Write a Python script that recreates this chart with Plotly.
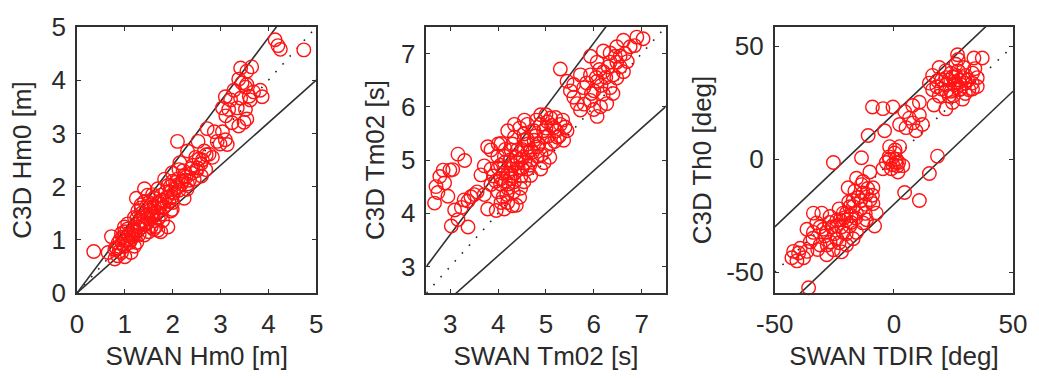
import plotly.graph_objects as go

# ---------------- data ----------------
# Panel 1: significant wave height Hm0 [m]
hm0_swan = [0.35,
    0.65, 0.72, 0.79, 0.79, 0.86, 0.93, 0.99, 0.99, 1.06, 1.13, 1.13, 1.20, 0.93, 1.06, 1.20, 0.85, 1.00, 0.90, 1.10,
    1.27, 1.34, 1.41, 1.48, 1.55, 1.62, 1.69, 1.34, 1.41, 1.55, 1.62, 1.69, 1.76, 1.79, 1.83, 1.76, 1.90, 1.96, 1.99,
    1.99, 1.96, 1.90, 2.06, 1.99, 2.13, 2.13, 2.24, 2.24, 2.31, 2.45, 2.38, 2.31, 2.48, 2.59, 2.69, 2.55, 2.83, 1.83,
    1.69, 1.41, 1.27, 1.24, 1.48, 1.34, 1.20, 1.30, 1.45, 1.50, 1.60, 1.70, 1.80, 1.85, 2.00, 2.10, 2.20, 2.30, 2.40,
    2.50, 2.60, 1.55, 1.65, 1.75, 2.00, 2.15, 1.40, 1.15, 1.25, 1.00,
    0.82, 0.88, 0.95, 1.02, 1.08, 1.12, 1.18, 1.22, 1.28, 1.32, 1.38, 1.42, 1.48, 1.52, 1.58, 1.62, 1.66, 1.72, 1.78,
    1.82, 1.88, 1.92, 1.95, 2.02, 2.08, 2.12, 2.18, 2.22, 2.28, 2.35, 2.42, 2.52, 2.62, 2.70, 1.50, 1.58, 1.35, 1.25,
    1.05, 0.95, 1.70, 1.60,
    2.10,
    2.53, 2.66, 2.72, 2.76, 2.87, 2.93, 2.99, 3.04, 3.04, 3.10, 3.10, 3.11, 3.14, 3.17, 3.21, 3.24, 3.28, 3.35, 3.38,
    3.38, 3.42, 3.42, 3.49, 3.52, 3.52, 3.55, 3.55, 3.62, 3.65, 3.69, 3.83, 3.87, 3.55, 3.60, 3.45,
    4.14, 4.20, 4.25, 4.74]
hm0_c3d = [0.78,
    0.76, 1.06, 0.82, 0.64, 0.94, 0.76, 0.88, 1.24, 1.00, 1.12, 0.76, 0.88, 1.12, 1.30, 1.42, 0.70, 0.68, 1.00, 0.95,
    1.24, 1.36, 1.09, 1.48, 1.24, 1.36, 1.18, 1.60, 1.72, 1.66, 1.78, 1.60, 1.48, 1.36, 1.72, 1.84, 1.24, 1.54, 1.57,
    1.81, 1.90, 2.02, 2.08, 2.26, 2.32, 1.93, 2.20, 1.78, 2.05, 2.14, 2.34, 2.67, 2.55, 2.43, 2.32, 2.52, 2.55, 2.14,
    1.96, 1.96, 1.54, 1.78, 1.84, 1.66, 1.20, 1.10, 1.30, 1.15, 1.50, 1.70, 1.60, 1.90, 1.70, 2.00, 2.10, 1.95, 2.25,
    2.30, 2.20, 1.45, 1.25, 1.15, 2.10, 2.45, 1.45, 1.05, 0.95, 1.15,
    0.85, 0.78, 0.92, 0.98, 1.08, 1.00, 1.15, 1.08, 1.30, 1.22, 1.35, 1.28, 1.40, 1.55, 1.45, 1.62, 1.52, 1.68, 1.75,
    1.62, 1.80, 1.72, 2.00, 1.88, 1.98, 2.15, 2.05, 2.30, 2.18, 2.12, 2.40, 2.35, 2.50, 2.60, 1.70, 1.85, 1.50, 1.40,
    1.20, 1.05, 1.40, 1.20,
    2.85,
    2.85, 2.67, 3.09, 2.61, 3.03, 2.85, 2.80, 3.03, 3.48, 2.88, 3.69, 3.33, 2.79, 3.45, 3.63, 3.20, 3.81, 3.48, 3.14,
    4.02, 3.66, 4.23, 3.21, 3.45, 3.87, 4.17, 3.27, 3.63, 4.25, 3.78, 3.81, 3.69, 3.92, 3.70, 3.95,
    4.76, 4.65, 4.58, 4.57]

# Panel 2: mean wave period Tm02 [s]
tm02_swan = [2.67, 2.70, 2.78, 2.85, 2.88, 2.95, 2.99, 3.05, 3.16, 3.30, 3.02, 3.16, 3.37, 3.09, 3.23, 3.29, 3.37, 3.43,
    3.50, 3.56, 2.74,
    3.78, 3.96, 4.13, 4.06, 4.30, 3.71, 3.85, 3.64, 3.85, 4.06, 4.20, 4.34, 4.27, 4.13, 4.47, 4.40, 3.85, 4.06, 4.34,
    4.54, 4.68, 4.82, 4.96, 4.89, 4.61, 4.68, 4.54, 4.47, 4.75, 4.89, 5.03, 5.17, 5.24, 5.10, 4.96, 5.30, 5.44, 5.37,
    4.89, 5.10, 4.61, 4.20, 4.34, 3.78, 3.99, 3.71, 4.40, 4.61, 4.75, 4.27, 4.13, 4.54, 4.82, 4.20, 4.30, 4.15, 4.25,
    4.35, 4.00, 4.10, 4.50, 4.60, 4.70, 5.00, 5.00, 5.20, 4.00, 4.45,
    3.95, 4.05, 4.10, 4.18, 4.22, 4.28, 4.32, 4.38, 4.42, 4.48, 4.52, 4.56, 4.62, 4.66, 4.72, 4.78, 4.85, 4.90, 4.95,
    5.05, 5.08, 5.12, 5.18, 5.22, 5.28, 5.35, 5.40, 4.45, 4.30, 4.15, 4.00, 4.05, 4.20, 4.38, 4.55, 4.80, 5.00, 3.90,
    4.25, 4.50,
    5.30, 5.44, 5.51, 5.58, 5.65, 5.72, 6.07, 5.93, 5.79, 6.00, 6.07, 5.93, 6.20, 6.34, 6.07, 5.93, 6.34, 6.48, 6.62,
    6.76, 6.90, 7.03, 6.48, 6.62, 6.34, 6.20, 6.48, 5.72, 5.58, 6.14, 6.27, 6.55, 6.20,
    5.85, 5.95, 6.05, 6.12, 6.15, 6.25, 6.30, 6.40, 6.45, 6.55, 6.65, 6.70, 6.85, 5.80, 6.00, 6.40]
tm02_c3d = [4.19, 4.50, 4.69, 4.81, 4.57, 4.32, 4.81, 4.82, 5.11, 4.99, 3.76, 3.88, 3.74, 4.06, 4.11, 4.25, 4.23, 4.31,
    4.35, 4.40, 4.39,
    4.08, 4.05, 4.08, 4.20, 4.14, 4.35, 4.54, 4.72, 4.83, 4.65, 4.47, 4.59, 4.83, 4.95, 5.01, 5.19, 5.19, 5.31, 5.43,
    5.37, 5.19, 5.07, 4.95, 4.83, 4.83, 4.71, 4.59, 4.47, 5.55, 5.67, 5.72, 5.61, 5.43, 5.31, 5.43, 5.67, 5.55, 5.37,
    5.85, 5.79, 5.67, 5.55, 5.67, 5.25, 5.07, 4.89, 4.95, 5.13, 5.37, 5.19, 5.07, 5.49, 5.25, 4.75, 4.90, 4.60, 5.00,
    4.75, 4.40, 4.30, 5.20, 5.40, 5.00, 5.20, 5.60, 5.80, 4.85, 4.30,
    4.60, 4.90, 4.75, 4.35, 4.55, 4.70, 4.40, 5.05, 4.85, 4.70, 5.05, 4.95, 5.30, 4.90, 5.15, 5.45, 5.30, 5.10, 5.55,
    5.45, 5.05, 5.65, 5.35, 5.55, 5.45, 5.75, 5.62, 5.60, 5.30, 5.20, 5.30, 4.55, 4.20, 4.15, 5.75, 5.75, 5.85, 4.70,
    4.65, 4.85,
    6.71, 6.48, 6.30, 6.18, 6.06, 5.94, 5.82, 6.12, 6.36, 6.30, 6.48, 6.60, 6.66, 6.84, 6.84, 6.95, 7.01, 7.13, 7.25,
    7.13, 7.31, 7.28, 6.54, 6.66, 6.36, 6.24, 6.84, 6.60, 6.42, 6.00, 6.06, 6.95, 7.05,
    6.45, 6.25, 6.55, 6.70, 6.40, 6.55, 6.75, 6.60, 6.95, 6.75, 7.00, 6.85, 7.15, 6.05, 5.95, 6.25]

# Panel 3: wave direction [deg]
dir_swan = [26.7, 33.6, 37.1, 16.25, 19.0, 21.8, 24.6, 27.4, 30.1, 32.9, 35.0, 31.5, 27.4, 23.2, 19.0, 16.25, 14.9,
    21.8, 24.6, 28.8, 26.0, 29.4, 21.8, 25.3, 18.3, 30.1, 23.0, 26.0, 28.0, 20.0, 24.0, 33.0, 35.0, 16.8,
    22.0, 24.0, 27.0, 29.0, 31.0, 33.0, 26.0, 28.0, 22.0, 20.0, 25.0, 30.0, 18.0, 34.0, 27.0,
    -4.6, -0.4, -10.8, -3.9, 2.4, 7.9, 6.5, 10.7, 12.0, 9.3, 5.1, 10.7, 4.5, -9.0, 8.0,
    -1.8, 2.4, 0.3, -3.2, 0.97, 3.75, -1.1, -4.6, 1.7, -1.8, 1.5, -2.0, 1.0, 2.0, -0.5, 0.5,
    -13.6, -25.4, -10.1, 18.3, 14.9, 4.5, 10.7,
    -13.6, -16.4, -11.5, -8.8, -13.9, -8.8, -7.4, -8.1, -11.5, -15.7, -18.5, -21.3, -22.6, -18.5, -15.7, -21.3,
    -24.0, -26.8, -28.2, -32.4, -33.8, -30.3, -26.8, -24.0, -29.6, -33.8, -36.5, -35.1, -31.0, -25.4, -28.2, -19.9,
    -17.1, -13.0, -17.1, -19.2, -15.7, -13.0, -20.0, -23.0, -18.0, -26.0, -12.0,
    -22.0, -20.0, -18.0, -16.0, -14.0, -12.0, -10.0, -15.0, -19.0, -21.0, -24.0, -27.0, -29.0, -31.0, -34.0, -23.0,
    -20.0, -17.0, -13.0, -11.0, -25.0, -28.0, -32.0, -22.0, -9.0,
    -42.1, -39.3, -37.9, -40.7, -42.8, -36.5, -40.0,
    -35.8]
dir_c3d = [46.1, 44.7, 44.7, 37.0, 40.5, 39.1, 36.4, 35.0, 37.0, 33.6, 32.1, 30.7, 30.7, 27.9, 27.9, 30.7, 33.6,
    22.2, 25.0, 26.5, 41.9, 40.5, 32.9, 32.9, 34.7, 33.6, 35.0, 37.0, 33.0, 31.0, 30.0, 38.0, 36.0, 23.9,
    36.0, 38.0, 39.0, 36.0, 35.0, 31.0, 34.0, 31.0, 30.0, 35.0, 28.0, 29.0, 32.0, 40.0, 44.0,
    22.3, 23.0, 10.4, 12.5, 15.3, 23.7, 18.1, 19.5, 15.3, 12.5, 13.9, 25.1, 21.0, 23.0, 16.0,
    5.5, 5.5, 2.7, -1.5, -1.5, -2.9, -4.3, -4.3, -5.7, -0.1, -3.0, 1.0, 0.0, -1.5, -2.5, 4.0,
    0.6, -1.5, -5.7, 1.3, -6.4, -14.8, -18.3,
    -11.3, -14.1, -15.5, -12.7, -18.3, -19.7, -23.9, -29.6, -26.8, -23.9, -21.1, -23.9, -26.8, -29.6, -32.4, -32.4,
    -35.2, -36.6, -32.4, -28.2, -23.9, -23.9, -25.4, -29.6, -31.0, -32.4, -31.0, -36.6, -38.0, -40.1, -42.3, -38.0,
    -35.2, -28.2, -18.3, -12.7, -8.5, -9.9, -27.0, -22.0, -25.0, -30.0, -20.0,
    -30.0, -33.0, -28.0, -26.0, -22.0, -24.0, -18.0, -17.0, -19.0, -26.0, -27.0, -28.0, -34.0, -30.0, -35.0, -37.0,
    -24.0, -21.0, -15.0, -13.0, -33.0, -38.0, -40.0, -41.0, -16.0,
    -40.8, -39.4, -43.6, -45.0, -43.6, -40.8, -41.5,
    -56.9]

# axis ranges, ticks and reference-line definitions
x_titles = ["SWAN Hm0 [m]", "SWAN Tm02 [s]", "SWAN TDIR [deg]"]
y_titles = ["C3D Hm0 [m]", "C3D Tm02 [s]", "C3D Th0 [deg]"]
x_ranges = [[0, 5], [2.5, 7.5], [-50, 50]]
y_ranges = [[0, 5], [2.5, 7.5], [-59.2, 58.4]]
x_ticks = [[0, 1, 2, 3, 4, 5], [3, 4, 5, 6, 7], [-50, 0, 50]]
y_ticks = [[0, 1, 2, 3, 4, 5], [3, 4, 5, 6, 7], [-50, 0, 50]]
x_ticktext = [["0", "1", "2", "3", "4", "5"], ["3", "4", "5", "6", "7"], ["-50", "0", "50"]]
y_ticktext = [["0", "1", "2", "3", "4", "5"], ["3", "4", "5", "6", "7"], ["-50", "0", "50"]]
line_x = [[0, 5], [2.5, 7.6], [-50, 50]]
# relative (factor) bands for panels 1-2, absolute (offset) band for panel 3
band_factor = [1.2, 0.8]
band_offset = [20, -20]

x_domains = [[0.0, 0.2556], [0.3733, 0.6288], [0.7455, 1.0]]

FONT = "Liberation Sans, Arial, sans-serif"
FS = 26
TXT = "#2a2a2a"
LINE = "#303030"
RED = "#ff1414"

fig = go.Figure()
xs_all = [hm0_swan, tm02_swan, dir_swan]
ys_all = [hm0_c3d, tm02_c3d, dir_c3d]

for i in range(3):
    xa = "x" if i == 0 else f"x{i+1}"
    ya = "y" if i == 0 else f"y{i+1}"
    lx = line_x[i]
    # 1:1 dotted line
    fig.add_trace(go.Scatter(x=lx, y=lx, mode="lines", xaxis=xa, yaxis=ya,
                             line=dict(color="#222222", width=1.6, dash="1.6px,9px"),
                             showlegend=False, hoverinfo="skip"))
    # band lines
    if i < 2:
        for f in band_factor:
            fig.add_trace(go.Scatter(x=lx, y=[f * v for v in lx], mode="lines", xaxis=xa, yaxis=ya,
                                     line=dict(color=LINE, width=1.6), showlegend=False))
    else:
        for o in band_offset:
            fig.add_trace(go.Scatter(x=lx, y=[v + o for v in lx], mode="lines", xaxis=xa, yaxis=ya,
                                     line=dict(color=LINE, width=1.6), showlegend=False))
    fig.add_trace(go.Scatter(x=xs_all[i], y=ys_all[i], mode="markers", xaxis=xa, yaxis=ya,
                             marker=dict(symbol="circle-open", size=13.5, color=RED,
                                         line=dict(width=1.4, color=RED)),
                             cliponaxis=False, showlegend=False))

axis_common = dict(showline=True, mirror="ticks", linecolor=LINE, linewidth=1.6,
                   ticks="inside", ticklen=4, tickwidth=1.2, tickcolor=LINE,
                   showgrid=False, zeroline=False,
                   tickfont=dict(family=FONT, size=FS, color=TXT))

layout = dict(width=1039, height=378, margin=dict(l=77, r=19, t=24, b=74),
              paper_bgcolor="white", plot_bgcolor="white", showlegend=False)

y_standoffs = [12, 9, 7]
for i in range(3):
    xk = "xaxis" if i == 0 else f"xaxis{i+1}"
    yk = "yaxis" if i == 0 else f"yaxis{i+1}"
    xa = "x" if i == 0 else f"x{i+1}"
    ya = "y" if i == 0 else f"y{i+1}"
    layout[xk] = dict(axis_common, domain=x_domains[i], range=x_ranges[i],
                      tickvals=x_ticks[i], ticktext=x_ticktext[i],
                      anchor=ya, ticklabelstandoff=7,
                      title=dict(text=x_titles[i], font=dict(family=FONT, size=FS, color=TXT), standoff=9))
    layout[yk] = dict(axis_common, domain=[0, 1], range=y_ranges[i],
                      tickvals=y_ticks[i], ticktext=y_ticktext[i],
                      anchor=xa, ticklabelstandoff=4,
                      title=dict(text=y_titles[i], font=dict(family=FONT, size=FS, color=TXT),
                                 standoff=y_standoffs[i]))

fig.update_layout(**layout)
fig.write_html("out.html")
